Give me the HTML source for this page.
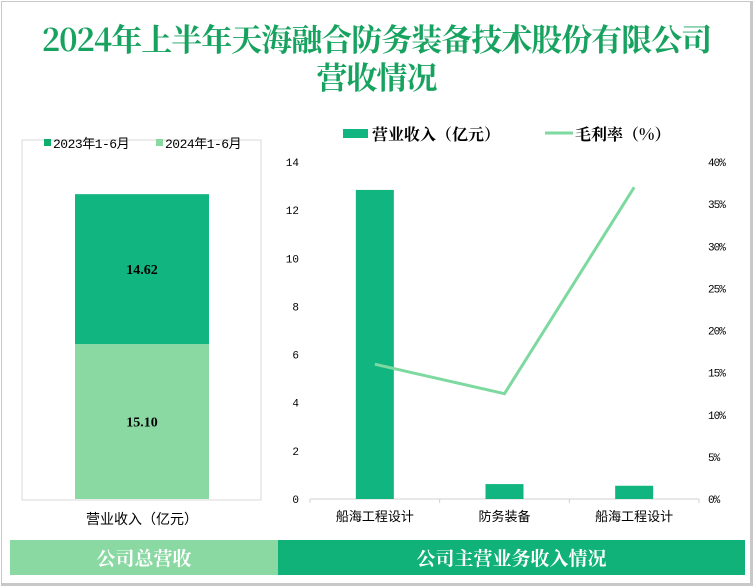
<!DOCTYPE html>
<html><head><meta charset="utf-8"><style>
body{margin:0;width:753px;height:586px;background:#fff;overflow:hidden;font-family:"Liberation Serif","Noto Serif CJK SC",serif;}
#frame{position:absolute;left:1px;top:1px;width:748px;height:581px;border:1px solid #c8c8c8;border-right:3px solid #c8c8c8;border-bottom:3px solid #c8c8c8;}
.t{position:absolute;left:0;width:753px;text-align:center;color:#17a35f;font-size:31px;font-weight:bold;line-height:36px;font-family:"Noto Serif CJK SC",serif;letter-spacing:-1px;}
.ban{position:absolute;top:540px;height:35px;line-height:35px;text-align:center;color:#fff;font-size:19px;font-weight:bold;font-family:"Noto Serif CJK SC",serif;}
</style></head><body>
<div id="frame"></div>
<div class="t" style="top:20px">2024年上半年天海融合防务装备技术股份有限公司</div>
<div class="t" style="top:58px">营收情况</div>
<svg width="753" height="586" style="position:absolute;left:0;top:0" id="svg"></svg>
<div class="ban" style="left:10px;width:268px;background:#8ad9a3">公司总营收</div>
<div class="ban" style="left:278px;width:467px;background:#10b27a">公司主营业务收入情况</div>
<script>
const stackSeries=["2023年1-6月","2024年1-6月"];
const stackValues=[14.62,15.10];
const categories=["船海工程设计","防务装备","船海工程设计"];
const revenue=[12.84,0.62,0.55];
const margin=[16.0,12.5,37.0];
const leftTicks=[0,2,4,6,8,10,12,14];
const rightTicks=[0,5,10,15,20,25,30,35,40];
const NS="http://www.w3.org/2000/svg";
const svg=document.getElementById('svg');
function el(t,a,txt){const e=document.createElementNS(NS,t);for(const k in a)e.setAttribute(k,a[k]);if(txt!==undefined)e.textContent=txt;svg.appendChild(e);return e;}
const F='"Liberation Mono","Noto Sans CJK SC",monospace';
let r=el('rect',{x:22,y:140,width:239,height:360,fill:'none',stroke:'#d9d9d9'});

const ly=v=>499-v*(359/35);
const cols=['#10b57f','#8ad9a3'];
let base=0;
const order=[1,0];
order.forEach(i=>{
 const y0=ly(base),y1=ly(base+stackValues[i]);
 const b=el('rect',{x:75,y:y1,width:134,height:y0-y1,fill:cols[i]});
 
 const l=el('text',{x:142,y:(y0+y1)/2+5,'text-anchor':'middle','font-size':14,'font-weight':'bold','font-family':'"Liberation Serif",serif'},stackValues[i].toFixed(2));
 
 base+=stackValues[i];
});
stackSeries.forEach((s,i)=>{
 const x=i==0?44:156;
 const m=el('rect',{x:x,y:139,width:7,height:7,fill:i==0?'#0fae6c':'#8ad9a3'});
 
 const t=el('text',{x:x+9,y:148,'font-size':13,'font-family':F,'letter-spacing':'-0.5'},s);
 
});
let xl=el('text',{x:142,y:524,'text-anchor':'middle','font-size':14,'font-family':F},'营业收入（亿元）');

const X0=310,X1=699,Y0=499,Y1=162;
const yL=v=>Y0-v/14*(Y0-Y1);
const yR=v=>Y0-v/40*(Y0-Y1);
const band=(X1-X0)/categories.length;
const xc=i=>X0+band*(i+0.5);
let ax=el('line',{x1:X0,y1:Y0,x2:X1,y2:Y0,stroke:'#d0d0d0'});

for(let i=0;i<=categories.length;i++){const tk=el('line',{x1:X0+band*i,y1:Y0,x2:X0+band*i,y2:Y0+4,stroke:'#d0d0d0'});}
leftTicks.forEach(v=>{const t=el('text',{x:299,y:yL(v)+4,'text-anchor':'end','font-size':11,'font-family':F},v);});
rightTicks.forEach(v=>{const t=el('text',{x:708,y:yR(v)+4,'font-size':11,'font-family':F,'letter-spacing':'-1'},v+'%');});
categories.forEach((c,i)=>{
 const b=el('rect',{x:xc(i)-19,y:yL(revenue[i]),width:38,height:Y0-yL(revenue[i]),fill:'#10b57f'});
 
 const t=el('text',{x:xc(i),y:521,'text-anchor':'middle','font-size':13,'font-family':F},c);
 
});
const pl=el('polyline',{points:margin.map((v,i)=>xc(i)+','+yR(v)).join(' '),fill:'none',stroke:'#7dd9a0','stroke-width':3});

let lm=el('rect',{x:343,y:129,width:25,height:9,fill:'#10b57f'});

let lt=el('text',{x:372,y:140,'font-size':16,'font-weight':'bold','font-family':'"Noto Serif CJK SC",serif'},'营业收入（亿元）');

let ll=el('line',{x1:545,y1:133,x2:573,y2:133,stroke:'#7dd9a0','stroke-width':3});

let lt2=el('text',{x:575,y:140,'font-size':16,'font-weight':'bold','font-family':'"Noto Serif CJK SC",serif'},'毛利率（%）');

</script>
</body></html>
